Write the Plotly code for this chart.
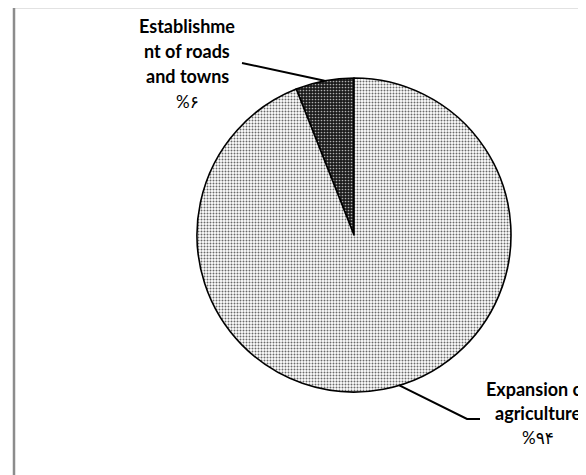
import math
import plotly.graph_objects as go

# ---- data ----
categories = ["Establishment of roads and towns", "Expansion of agriculture"]
values = [6, 94]
label_lines = [["Establishme", "nt of roads", "and towns"],
               ["Expansion of", "agriculture"]]

OFF = 8  # page body margin
W, H = 586 - OFF, 475 - OFF
PERSIAN = str.maketrans("0123456789", "۰۱۲۳۴۵۶۷۸۹")


def px(x):
    return (x - OFF) / W


def py(y):
    return 1 - (y - OFF) / H


# pie geometry (screen pixels)
cx, cy, r = 354, 235, 157
total = sum(values)

fig = go.Figure()
fig.add_trace(go.Pie(
    labels=categories,
    values=values,
    sort=False,
    direction="counterclockwise",
    rotation=-360 * values[0] / total,
    textinfo="none",
    hoverinfo="label+percent",
    showlegend=False,
    domain=dict(x=[px(cx - r), px(cx + r)], y=[py(cy + r), py(cy - r)]),
    marker=dict(
        colors=["#222222", "#ffffff"],
        line=dict(color="#000000", width=1.6),
        pattern=dict(
            shape=[".", "."],
            fgcolor=["#b0b0b0", "#6a6a6a"],
            bgcolor=["#1a1a1a", "#ffffff"],
            size=3,
            solidity=[0.25, 0.35],
            fillmode="replace",
        ),
    ),
))

# mid angles (measured counterclockwise from 12 o'clock)
mids = []
acc = 0
for v in values:
    mids.append((acc + v / 2) / total * 2 * math.pi)
    acc += v


def arc_point(theta):
    return cx - r * math.sin(theta), cy - r * math.cos(theta)


shapes = []
# outer gray frame
shapes.append(dict(type="rect", xref="paper", yref="paper",
                   x0=px(14), y0=py(7), x1=px(600), y1=py(495),
                   line=dict(color="#8c8c8c", width=2.5), fillcolor="rgba(0,0,0,0)"))

# leader line 1
ax, ay = arc_point(mids[0])
shapes.append(dict(type="path", xref="paper", yref="paper",
                   path=f"M {px(242)},{py(63)} L {px(ax)},{py(ay)}",
                   line=dict(color="#000", width=2)))
# leader line 2
bx, by = arc_point(mids[1] + math.radians(6))
shapes.append(dict(type="path", xref="paper", yref="paper",
                   path=f"M {px(bx)},{py(by)} L {px(467)},{py(419)} L {px(480)},{py(419)}",
                   line=dict(color="#000", width=2)))

annotations = []
label_pos = [(187, 26, 25.2), (538, 389, 24)]
for i, lines in enumerate(label_lines):
    x0, y0, step = label_pos[i]
    allines = ["<b>" + s + "</b>" for s in lines] + ["%" + str(values[i]).translate(PERSIAN)]
    for j, t in enumerate(allines):
        is_pct = j == len(allines) - 1
        annotations.append(dict(
            x=px(x0), y=py(y0 + j * step), xref="paper", yref="paper",
            text=t, showarrow=False, xanchor="center", yanchor="middle",
            font=dict(family="Lato, DejaVu Sans", size=18 if not is_pct else 17,
                      color="#000"),
        ))

fig.update_layout(
    width=W, height=H,
    margin=dict(l=0, r=0, t=0, b=0),
    paper_bgcolor="white", plot_bgcolor="white",
    shapes=shapes, annotations=annotations,
)

fig.write_html("out.html")
